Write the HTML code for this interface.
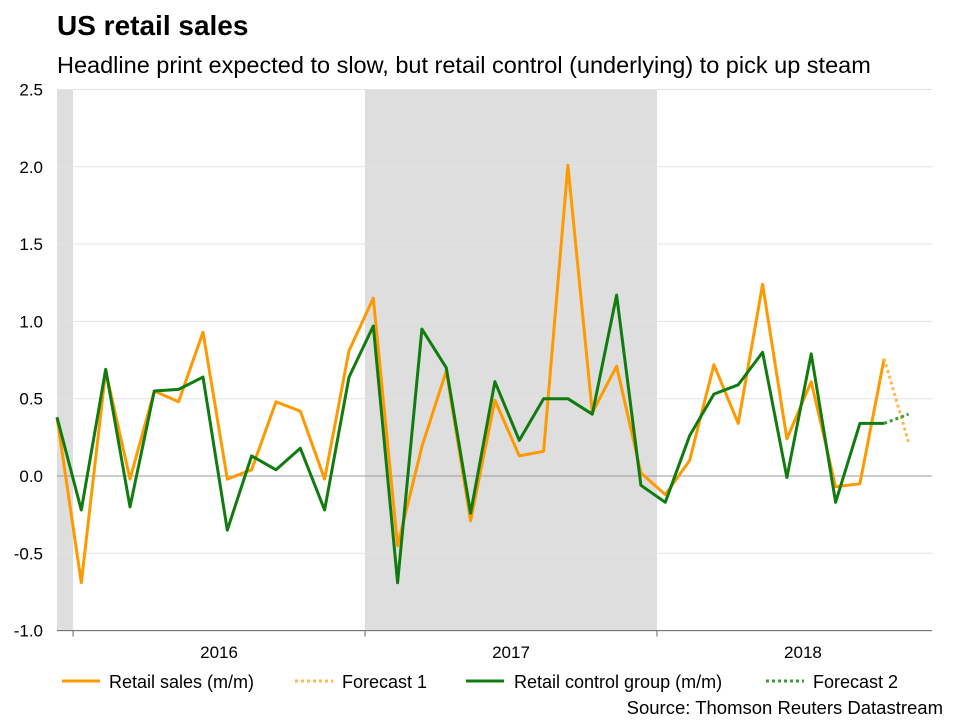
<!DOCTYPE html>
<html><head><meta charset="utf-8"><style>
body{margin:0;background:#fff;font-family:"Liberation Sans",Arial,sans-serif;}
#c{position:relative;width:960px;height:720px;}
</style></head><body>
<div id="c">
<svg width="960" height="720">
<text x="57" y="35" font-size="28" font-weight="bold" fill="#000">US retail sales</text>
<text x="57" y="73" font-size="23.5" fill="#000">Headline print expected to slow, but retail control (underlying) to pick up steam</text>
<g id="bands"></g><g id="grid"></g><g id="axes"></g><g id="series"></g>
<g>
<line x1="62" y1="681" x2="100" y2="681" stroke="#FF9900" stroke-width="3"/>
<text x="109" y="688" font-size="18">Retail sales (m/m)</text>
<line x1="295" y1="681" x2="333" y2="681" stroke="#FFB84D" stroke-width="3" stroke-dasharray="3,3"/>
<text x="342" y="688" font-size="18">Forecast 1</text>
<line x1="466" y1="681" x2="504" y2="681" stroke="#107C10" stroke-width="3"/>
<text x="514" y="688" font-size="18">Retail control group (m/m)</text>
<line x1="766" y1="681" x2="804" y2="681" stroke="#3A9A3A" stroke-width="3" stroke-dasharray="3,3"/>
<text x="813" y="688" font-size="18">Forecast 2</text>
</g>
<text x="943" y="714" font-size="18.5" text-anchor="end">Source: Thomson Reuters Datastream</text>
</svg></div>
<script>
const retail=[0.38,-0.69,0.68,-0.02,0.55,0.48,0.93,-0.02,0.04,0.48,0.42,-0.02,0.81,1.15,-0.45,0.19,0.68,-0.29,0.49,0.13,0.16,2.01,0.41,0.71,0.02,-0.12,0.10,0.72,0.34,1.24,0.24,0.61,-0.07,-0.05,0.76];
const control=[0.38,-0.22,0.69,-0.20,0.55,0.56,0.64,-0.35,0.13,0.04,0.18,-0.22,0.64,0.97,-0.69,0.95,0.70,-0.24,0.61,0.23,0.50,0.50,0.40,1.17,-0.06,-0.17,0.26,0.53,0.59,0.80,-0.01,0.79,-0.17,0.34,0.34];
const forecast1=[0.76,0.22];
const forecast2=[0.34,0.40];
const yTicks=[2.5,2.0,1.5,1.0,0.5,0.0,-0.5,-1.0];
const years=["2016","2017","2018"];
const NS="http://www.w3.org/2000/svg";
const X0=57,X1=932,STEP=24.33,Y0=476,PU=154.6;
const x=i=>X0+i*STEP, y=v=>Y0-v*PU;
function mk(t,a,p){const e=document.createElementNS(NS,t);for(const k in a)e.setAttribute(k,a[k]);document.getElementById(p).appendChild(e);return e;}
let b1=mk('rect',{x:X0,y:y(2.5),width:x(0.66)-X0,height:y(-1)-y(2.5),fill:'#DEDEDE'},'bands');


let b2=mk('rect',{x:x(12.66),y:y(2.5),width:12*STEP,height:y(-1)-y(2.5),fill:'#DEDEDE'},'bands');


yTicks.forEach(v=>{
 let l=mk('line',{x1:X0,x2:X1,y1:y(v),y2:y(v),stroke:v===0?'#999':'#E3E3E3','stroke-width':1},'grid');
 
 
 let t=mk('text',{x:43,y:y(v)+6,'font-size':17,'text-anchor':'end'},'axes');
 t.textContent=v.toFixed(1);
 
 
});
let ax=mk('line',{x1:X0,x2:X1,y1:y(-1),y2:y(-1),stroke:'#666'},'axes');


for(let k=0;k<3;k++){let tk=mk('line',{x1:x(0.66+12*k),x2:x(0.66+12*k),y1:y(-1),y2:y(-1)+6,stroke:'#666'},'axes');
 
 }
years.forEach((yr,k)=>{let t=mk('text',{x:x(6.66+12*k),y:658,'font-size':17,'text-anchor':'middle'},'axes');
 t.textContent=yr;
 
 });
function line(arr,off,col,dash,name){
 const pts=arr.map((v,i)=>x(i+off).toFixed(1)+','+y(v).toFixed(1)).join(' ');
 const a={points:pts,fill:'none',stroke:col,'stroke-width':3,'stroke-linejoin':'round'};
 if(dash)a['stroke-dasharray']='3,3';
 let p=mk('polyline',a,'series');
 
 
}
line(retail,0,'#FF9900',false,'retail-sales-line');
line(control,0,'#107C10',false,'retail-control-line');
line(forecast1,retail.length-1,'#FFB84D',true,'forecast-1-line');
line(forecast2,control.length-1,'#3A9A3A',true,'forecast-2-line');
</script>
</body></html>
